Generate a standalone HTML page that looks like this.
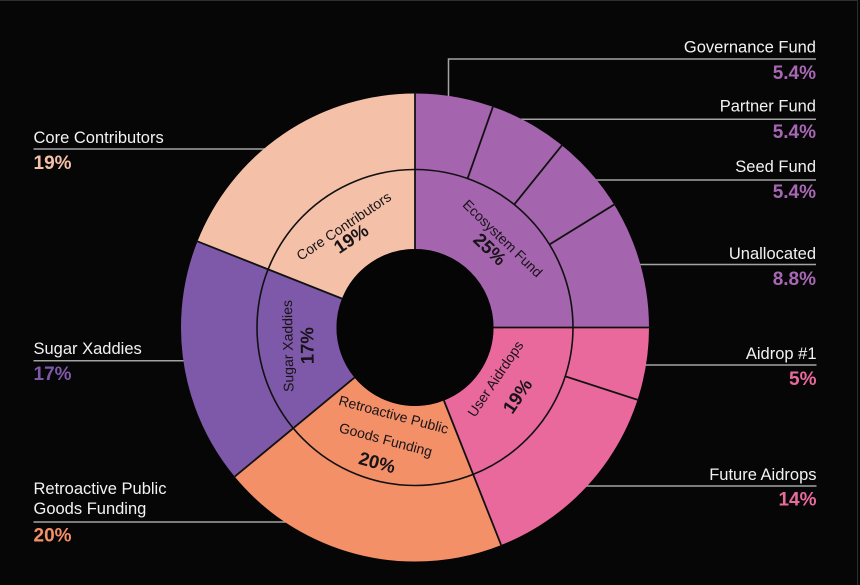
<!DOCTYPE html>
<html><head><meta charset="utf-8"><style>
html,body{margin:0;padding:0;background:#060606;}
svg{display:block;}
.n{font-family:"Liberation Sans",Arial,sans-serif;font-size:16.5px;fill:#f2f2f2;}
.p{font-family:"Liberation Sans",Arial,sans-serif;font-size:19px;font-weight:bold;}
.in{font-family:"Liberation Sans",Arial,sans-serif;font-size:14px;fill:#171317;}
.ip{font-family:"Liberation Sans",Arial,sans-serif;font-size:18.5px;font-weight:bold;fill:#171317;}
</style></head><body>
<svg width="860" height="585" viewBox="0 0 860 585" xmlns="http://www.w3.org/2000/svg">
<rect x="0" y="0" width="860" height="585" fill="#060606"/>
<line x1="0" y1="0.5" x2="858" y2="0.5" stroke="#2e2e2e" stroke-width="1"/>
<line x1="857.5" y1="0" x2="857.5" y2="585" stroke="#2e2e2e" stroke-width="1"/>

<!-- leader lines -->
<g stroke="#a3a3a3" stroke-width="1.5" fill="none">
<polyline points="816,59 448.5,59 448.5,110"/>
<line x1="480" y1="119.3" x2="816" y2="119.3"/>
<line x1="560" y1="180" x2="816" y2="180"/>
<line x1="600" y1="264.5" x2="816" y2="264.5"/>
<line x1="600" y1="365" x2="816.5" y2="365"/>
<line x1="560" y1="486" x2="816.5" y2="486"/>
<line x1="33.5" y1="149" x2="300" y2="149"/>
<line x1="33.5" y1="360.7" x2="250" y2="360.7"/>
<line x1="33.5" y1="522" x2="330" y2="522"/>
</g>

<!-- sectors -->
<g fill="none" stroke-width="155.5" transform="rotate(-90 415 327.5)">
<circle cx="415" cy="327.5" r="156.25" pathLength="360" stroke="#a564ae" stroke-dasharray="90.4 400" stroke-dashoffset="0"/>
<circle cx="415" cy="327.5" r="156.25" pathLength="360" stroke="#ea699d" stroke-dasharray="68.8 400" stroke-dashoffset="-90"/>
<circle cx="415" cy="327.5" r="156.25" pathLength="360" stroke="#f39068" stroke-dasharray="72.4 400" stroke-dashoffset="-158.4"/>
<circle cx="415" cy="327.5" r="156.25" pathLength="360" stroke="#7e59a9" stroke-dasharray="61.6 400" stroke-dashoffset="-230.4"/>
<circle cx="415" cy="327.5" r="156.25" pathLength="360" stroke="#f5c0a8" stroke-dasharray="68.6 400" stroke-dashoffset="-291.6"/>
</g>
<circle cx="415" cy="327.5" r="78.5" fill="#050505"/>
<circle cx="415" cy="327.5" r="158" fill="none" stroke="#111" stroke-width="1.6"/>

<!-- separators -->
<g stroke="#111" stroke-width="1.8">
<line x1="415" y1="249" x2="415" y2="92" transform="rotate(0 415 327.5)"/>
<line x1="415" y1="249" x2="415" y2="92" transform="rotate(90 415 327.5)"/>
<line x1="415" y1="249" x2="415" y2="92" transform="rotate(158.4 415 327.5)"/>
<line x1="415" y1="249" x2="415" y2="92" transform="rotate(230.4 415 327.5)"/>
<line x1="415" y1="249" x2="415" y2="92" transform="rotate(291.6 415 327.5)"/>
<line x1="415" y1="169.5" x2="415" y2="92" transform="rotate(19.44 415 327.5)"/>
<line x1="415" y1="169.5" x2="415" y2="92" transform="rotate(38.88 415 327.5)"/>
<line x1="415" y1="169.5" x2="415" y2="92" transform="rotate(58.32 415 327.5)"/>
<line x1="415" y1="169.5" x2="415" y2="92" transform="rotate(108 415 327.5)"/>
</g>

<!-- inner labels -->
<g text-anchor="middle" dominant-baseline="central">
<text class="in" x="343.7" y="226" transform="rotate(-34 343.7 226)">Core Contributors</text>
<text class="ip" x="351" y="238.5" transform="rotate(-34 351 238.5)">19%</text>
<text class="in" x="502.7" y="238.3" transform="rotate(44 502.7 238.3)">Ecosystem Fund</text>
<text class="ip" x="490" y="249" transform="rotate(44 490 249)">25%</text>
<text class="in" x="287.7" y="346" transform="rotate(-91 287.7 346)">Sugar Xaddies</text>
<text class="ip" x="307" y="345.7" transform="rotate(-91 307 345.7)">17%</text>
<text class="in" x="495.3" y="378.7" transform="rotate(-56 495.3 378.7)">User Aidrdops</text>
<text class="ip" x="517.4" y="396" transform="rotate(-56 517.4 396)">19%</text>
<text class="in" x="393.7" y="414.5" transform="rotate(15 393.7 414.5)">Retroactive Public</text>
<text class="in" x="385.8" y="439.5" transform="rotate(15 385.8 439.5)">Goods Funding</text>
<text class="ip" x="377.2" y="462.3" transform="rotate(15 377.2 462.3)">20%</text>
</g>

<!-- right labels -->
<g text-anchor="end">
<text class="n" x="816" y="52.7">Governance Fund</text>
<text class="p" x="816" y="79" fill="#a867b4">5.4%</text>
<text class="n" x="816" y="111.7">Partner Fund</text>
<text class="p" x="816" y="138" fill="#a867b4">5.4%</text>
<text class="n" x="816" y="172">Seed Fund</text>
<text class="p" x="816" y="198" fill="#a867b4">5.4%</text>
<text class="n" x="816" y="259">Unallocated</text>
<text class="p" x="816" y="285" fill="#a867b4">8.8%</text>
<text class="n" x="816.5" y="359">Aidrop #1</text>
<text class="p" x="816.5" y="385" fill="#e96a9d">5%</text>
<text class="n" x="816.5" y="480">Future Aidrops</text>
<text class="p" x="816.5" y="505.7" fill="#e96a9d">14%</text>
</g>

<!-- left labels -->
<g text-anchor="start">
<text class="n" x="33.5" y="143">Core Contributors</text>
<text class="p" x="33.5" y="169" fill="#f5c0a8">19%</text>
<text class="n" x="33.5" y="354">Sugar Xaddies</text>
<text class="p" x="33.5" y="380" fill="#7e59a9">17%</text>
<text class="n" x="33.5" y="494">Retroactive Public</text>
<text class="n" x="33.5" y="514">Goods Funding</text>
<text class="p" x="33.5" y="541.7" fill="#f39068">20%</text>
</g>
</svg>
</body></html>
